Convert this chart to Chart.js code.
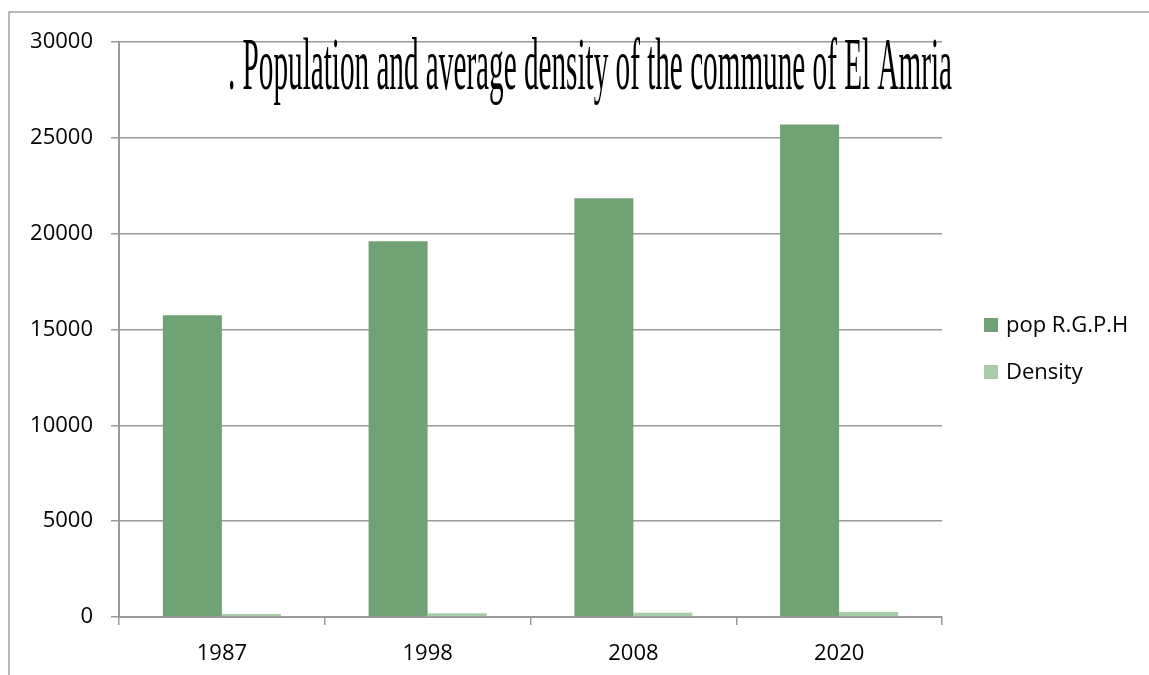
<!DOCTYPE html>
<html>
<head>
<meta charset="utf-8">
<script src="https://cdn.jsdelivr.net/npm/chart.js@4/dist/chart.umd.min.js"></script>
<style>
  html, body { margin: 0; padding: 0; background: #fff; }
  #wrap { position: relative; width: 1149px; height: 675px; }
  canvas { display: block; }
</style>
</head>
<body>
<div id="wrap"><canvas id="c" width="1149" height="675"></canvas></div>
<script>
const titleText = ". Population and average density of the commune of El Amria";
const categories = ["1987", "1998", "2008", "2020"];
const seriesNames = ["pop R.G.P.H", "Density"];
const popValues = [15750, 19600, 21850, 25700];
const densityValues = [160, 200, 225, 265];
const yTicks = [0, 5000, 10000, 15000, 20000, 25000, 30000];

const popColor = "#71a275";
const densColor = "#a9cca9";
const gridColor = "#9a9a9a";
const sansFont = "'Open Sans', 'Liberation Sans', sans-serif";

const framePlugin = {
  id: "frame",
  beforeDraw(chart) {
    const ctx = chart.ctx;
    ctx.save();
    ctx.strokeStyle = "#a0a0a0";
    ctx.lineWidth = 1.5;
    ctx.beginPath();
    ctx.moveTo(9, 675);
    ctx.lineTo(9, 12);
    ctx.lineTo(1149, 12);
    ctx.stroke();
    ctx.restore();
  }
};

const titlePlugin = {
  id: "condTitle",
  afterDraw(chart) {
    const ctx = chart.ctx;
    ctx.save();
    ctx.font = "73px 'Liberation Serif', 'Times New Roman', serif";
    ctx.fillStyle = "#000";
    ctx.textBaseline = "alphabetic";
    const w = ctx.measureText(titleText).width;
    const targetW = 724;
    const sx = targetW / w;
    ctx.translate(228, 89);
    ctx.scale(sx, 1);
    ctx.fillText(titleText, 0, 0);
    ctx.restore();
  }
};

const legendPlugin = {
  id: "sideLegend",
  afterDraw(chart) {
    const ctx = chart.ctx;
    ctx.save();
    ctx.font = "22px " + sansFont;
    ctx.textBaseline = "middle";
    const items = [
      { name: seriesNames[0], color: popColor, y: 325 },
      { name: seriesNames[1], color: densColor, y: 372 }
    ];
    items.forEach(it => {
      ctx.fillStyle = it.color;
      ctx.fillRect(984, it.y - 7, 14, 14);
      ctx.fillStyle = "#000";
      ctx.fillText(it.name, 1006, it.y + 1);
    });
    ctx.restore();
  }
};

new Chart(document.getElementById("c"), {
  type: "bar",
  data: {
    labels: categories,
    datasets: [
      { label: seriesNames[0], data: popValues, backgroundColor: popColor, borderWidth: 0,
        categoryPercentage: 0.574, barPercentage: 1.0 },
      { label: seriesNames[1], data: densityValues, backgroundColor: densColor, borderWidth: 0,
        categoryPercentage: 0.574, barPercentage: 1.0 }
    ]
  },
  options: {
    responsive: false,
    animation: false,
    devicePixelRatio: 1,
    layout: { padding: { left: 0, top: 42, right: 207, bottom: 0 } },
    plugins: {
      legend: { display: false },
      title: { display: false },
      tooltip: { enabled: false }
    },
    scales: {
      x: {
        offset: true,
        grid: {
          offset: true,
          drawOnChartArea: false,
          drawTicks: true,
          tickLength: 8,
          color: gridColor,
          lineWidth: 1.5
        },
        border: { display: true, color: gridColor, width: 2 },
        ticks: {
          color: "#000",
          padding: 16,
          font: { family: sansFont, size: 22 }
        },
        afterFit(scale) { scale.height = 58; }
      },
      y: {
        min: 0,
        max: 30000,
        afterBuildTicks(scale) { scale.ticks = yTicks.map(v => ({ value: v })); },
        grid: {
          color: gridColor,
          lineWidth: 1.5,
          drawTicks: true,
          tickLength: 8
        },
        border: { display: true, color: gridColor, width: 2 },
        ticks: {
          color: "#000",
          padding: 18,
          font: { family: sansFont, size: 22 },
          callback: v => String(v)
        },
        afterFit(scale) { scale.width = 119; }
      }
    }
  },
  plugins: [framePlugin, titlePlugin, legendPlugin]
});
</script>
</body>
</html>
